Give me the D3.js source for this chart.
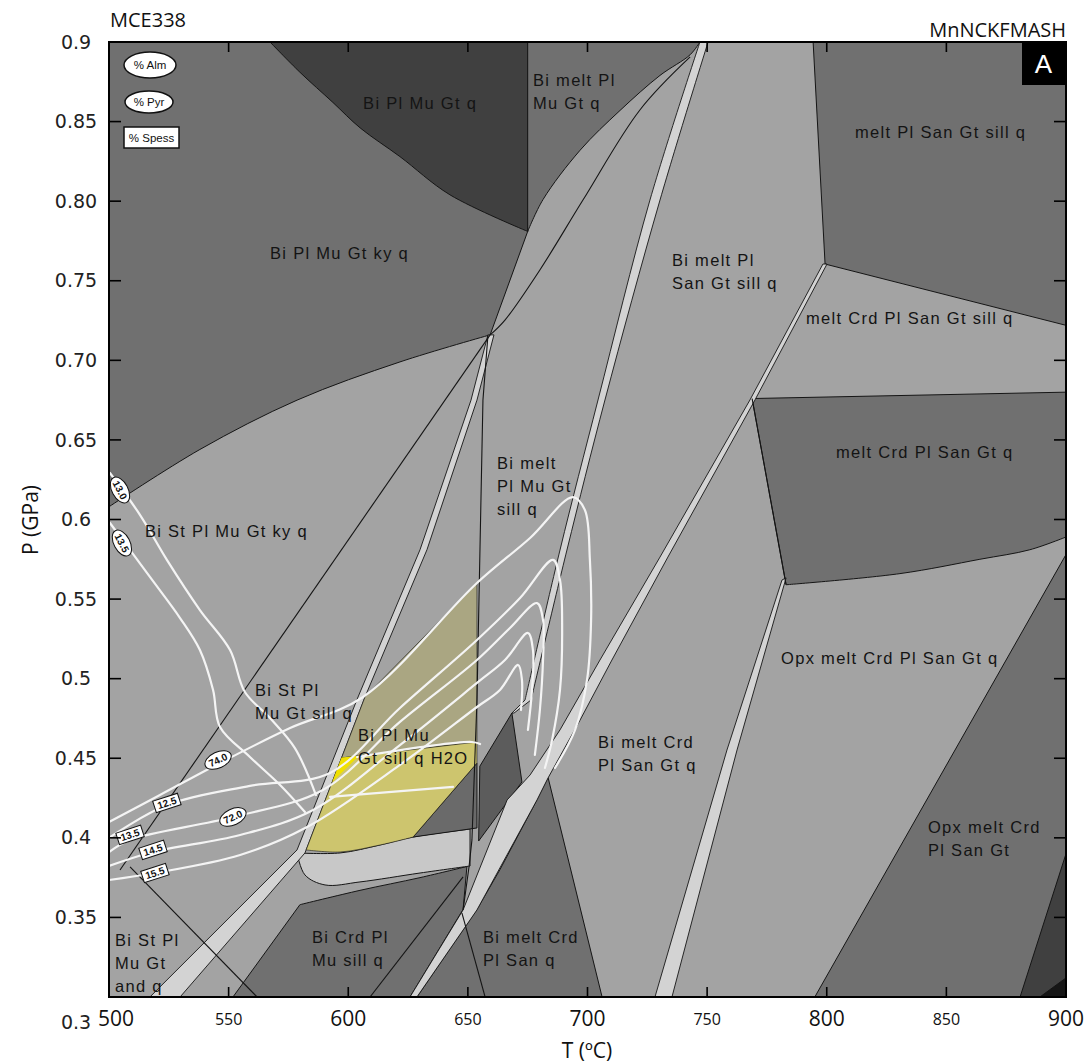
<!DOCTYPE html>
<html><head><meta charset="utf-8">
<script src="https://cdn.jsdelivr.net/npm/d3@7"></script>
<style>body{margin:0;background:#fff}</style>
</head><body>
<svg id="c" width="1088" height="1063"></svg>
<script>
// ---------- DATA (T in °C, P in GPa) ----------
const tempTicks = [500,550,600,650,700,750,800,850,900];
const presTicks = [0.9,0.85,0.8,0.75,0.7,0.65,0.6,0.55,0.5,0.45,0.4,0.35,0.3];
const presTickLabels = ["0.9","0.85","0.80","0.75","0.70","0.65","0.6","0.55","0.5","0.45","0.4","0.35","0.3"];

// field polygons
const fBiPlMuGtKyQ = [[500,0.9],[675,0.9],[675,0.781],[659.3,0.716],[621.6,0.699],[578.6,0.675],[538,0.644],[500,0.608]];
const fBiPlMuGtQ = [[675,0.9],[675,0.781],[642.5,0.804],[621.6,0.828],[605,0.846],[593.6,0.862],[579.8,0.881],[567.3,0.9]];
const fBiMeltPlMuGtQ = [[675,0.9],[747,0.9],[742.9,0.892],[730.3,0.879],[713.6,0.857],[696.9,0.832],[681.4,0.801],[675,0.781]];
const fMeltPlSanGtSillQ = [[794.3,0.9],[900,0.9],[900,0.722],[799.3,0.7605]];
const fMeltCrdPlSanGtQ = [[768.8,0.676],[900,0.680],[900,0.589],[884.9,0.581],[864,0.575],[830.6,0.566],[783,0.559]];
const fOpxMeltCrdPlSanGt = [[900,0.578],[900,0.3],[795,0.3]];
const fCornerA = [[900,0.39],[900,0.3],[880.8,0.3]];
const fCornerB = [[889.1,0.3],[900,0.3],[900,0.312]];
const fBiCrdPlMuSillQ = [[551.8,0.3],[579.8,0.358],[604.9,0.367],[630,0.375],[649.6,0.382],[648,0.355],[625.8,0.3]];
const fBiMeltCrdPlSanQ = [[683.5,0.438],[706.1,0.3],[628.7,0.3],[653.8,0.355],[663.4,0.38],[678.9,0.424]];
const fCrescent = [[578.6,0.3905],[596.6,0.3905],[613.3,0.3955],[627.1,0.4005],[650.9,0.4055],[650.9,0.3823],[630,0.3779],[604.9,0.3723],[590.3,0.3704],[581.9,0.3767],[578.6,0.3905]];
const fH2OUpper = [[607,0.4885],[653.8,0.5601],[653.8,0.4602],[597.2,0.4502]];
const fH2OLower = [[597.2,0.4502],[653.8,0.4602],[653.8,0.447],[627.1,0.4005],[613.3,0.3955],[596.6,0.3911],[582.4,0.3924],[590.4,0.4238]];
const fH2OBright = [[597.2,0.4505],[604.5,0.4515],[593.3,0.4351]];
const fDarkQuad = [[627.1,0.4005],[653.8,0.447],[653.8,0.4062]];
const fDarkTri = [[668.4,0.4784],[672.6,0.4351],[654.5,0.398],[655,0.445]];

// narrow bands
const bandB1 = [[658.4,0.716],[651.3,0.675],[630,0.581],[604.1,0.4885],[578.6,0.3924],[517.1,0.3],[529.7,0.3],[581.9,0.3905],[607,0.4885],[632.9,0.581],[653.8,0.675],[660.9,0.716]];
const bandB2 = [[747,0.9],[726.1,0.8007],[704.4,0.6751],[688.5,0.5808],[673.9,0.4866],[668.4,0.4784],[669.3,0.4784],[676.4,0.4866],[691.4,0.5808],[707.3,0.6751],[730.3,0.8007],[750.4,0.9]];
const bandB3 = [[798.4,0.7605],[767.9,0.6751],[730.3,0.5764],[705.2,0.5117],[688.5,0.4678],[676,0.4395],[666.4,0.4238],[648,0.3547],[625.8,0.3],[628.7,0.3],[653.8,0.3547],[678.9,0.4238],[683.5,0.4376],[696.9,0.474],[710.2,0.5117],[733.6,0.5764],[770,0.6751],[800.1,0.7605]];
const bandB4 = [[781.3,0.562],[758.3,0.4552],[728.2,0.3],[735.3,0.3],[762.5,0.4552],[783,0.5633]];

// other reaction lines
const lineC2 = [[742.9,0.8906],[721.9,0.8573],[698.1,0.8007],[680.1,0.7568],[665.5,0.7253],[659.3,0.716]];
const lineV1 = [[658.4,0.716],[656.3,0.675],[653.8,0.4866],[651.7,0.3987],[650.5,0.382],[648,0.3547]];
const lineKySill = [[659.3,0.716],[504.6,0.3798]];
const lineSillAnd = [[508.8,0.3817],[561.9,0.3]];
const lineBot1 = [[609.1,0.3],[648,0.3755]];
const lineBot2 = [[647.5,0.3528],[657.2,0.3]];
const lineCrdIn = [[768.8,0.676],[783,0.559]];

// garnet isopleths
const isoPyr130 = [[500.4,0.6292],[513,0.6028],[524.2,0.5746],[538,0.5431],[550.6,0.518],[556.8,0.4916],[567.3,0.4753],[577.7,0.4564],[586.5,0.4269]];
const isoPyr135 = [[500.4,0.5978],[517.1,0.5639],[529.7,0.5381],[538,0.518],[543.5,0.4929],[546.4,0.4696],[558.9,0.4508],[571.5,0.4332],[581.9,0.4162]];
const isoA = [[500,0.41],[521.3,0.4269],[545.6,0.4464],[575.7,0.469],[606.2,0.4885],[653.8,0.5601],[676,0.5884],[693.9,0.6141],[698.9,0.606],[701,0.5746],[701.5,0.5369],[699.8,0.4992],[694.8,0.4678],[686.4,0.4439]];
const isoB = [[500,0.4],[524.2,0.4206],[558.9,0.4326],[592.4,0.4408],[621.6,0.4816],[653.8,0.5243],[671.8,0.5507],[685.6,0.5746],[688.5,0.562],[689.4,0.5306],[688.5,0.4929],[685.2,0.4615],[682.2,0.4439]];
const isoC = [[500,0.3911],[508.8,0.3987],[551.8,0.4131],[589.4,0.4301],[621.6,0.4728],[653.8,0.5117],[667.6,0.5318],[678.9,0.5475],[681.4,0.5369],[681.4,0.5117],[680.1,0.4803],[678,0.4521]];
const isoD = [[500,0.3823],[518.4,0.3911],[554.8,0.4018],[585.3,0.4175],[621.6,0.4583],[653.8,0.4973],[665.5,0.5117],[675.1,0.5287],[677.2,0.518],[676.8,0.4929],[675.1,0.4678]];
const isoE = [[500,0.3735],[519.2,0.3779],[554.8,0.3892],[582.8,0.4068],[621.6,0.4458],[653.8,0.4822],[663.4,0.4929],[671,0.5086],[672.6,0.4992],[672.2,0.4803]];
const isoF = [[592.4,0.4257],[643.8,0.432]];
const isoG = [[603.7,0.4508],[651.7,0.4602],[655.1,0.4589]];

// isopleth labels
const isoLabelText = ["13.0","13.5","74.0","12.5","72.0","13.5","14.5","15.5"];
const isoLabelT = [504.6,505.4,545.6,524.2,551.8,508.8,518.4,519.2];
const isoLabelP = [0.6185,0.5852,0.4489,0.4219,0.4131,0.4018,0.3924,0.3779];
const isoLabelKind = ["pyr","pyr","alm","sp","alm","sp","sp","sp"];

// field labels
const fieldLabelLines = [["Bi Pl Mu Gt q"],["Bi melt Pl","Mu Gt q"],["melt Pl San Gt sill q"],["Bi Pl Mu Gt ky q"],
 ["Bi melt Pl","San Gt sill q"],["melt Crd Pl San Gt sill q"],["melt Crd Pl San Gt q"],["Bi melt","Pl Mu Gt","sill q"],
 ["Bi St Pl Mu Gt ky q"],["Opx melt Crd Pl San Gt q"],["Bi St Pl","Mu Gt sill q"],["Bi Pl Mu","Gt sill q H2O"],
 ["Bi melt Crd","Pl San Gt q"],["Opx melt Crd","Pl San Gt"],["Bi St Pl","Mu Gt","and q"],["Bi Crd Pl","Mu sill q"],["Bi melt Crd","Pl San q"]];
const fieldLabelT = [606.2,677.2,811.8,567.3,735.3,791.3,803.9,662.2,515,780.9,561,604.1,704.4,842.3,502.5,584.8,656.3];
const fieldLabelP = [0.8617,0.8761,0.8435,0.7674,0.763,0.7266,0.6424,0.6355,0.5928,0.513,0.4929,0.4646,0.4602,0.4068,0.3358,0.3377,0.3377];

// ---------- DRAW ----------
const svg = d3.select("#c");
const m = {l:109, r:1066, t:42, b:997};
const x = d3.scaleLinear().domain([500,900]).range([m.l,m.r]);
const y = d3.scaleLinear().domain([0.3,0.9]).range([m.b,m.t]);
const lin = d3.line().x(d=>x(d[0])).y(d=>y(d[1]));
const smooth = d3.line().x(d=>x(d[0])).y(d=>y(d[1])).curve(d3.curveCatmullRom.alpha(0.5));

const tone = {light:"#a3a3a3", mid:"#707070", dark:"#404040", darkest:"#161616", band:"#d3d3d3", pale:"#c8c8c8",
  khaki:"#aaa682", yellow:"#cdc56e", bright:"#f0e000", darkq:"#6a6a6a", darkt:"#5c5c5c"};

svg.append("defs").append("clipPath").attr("id","plot").append("rect")
  .attr("x",m.l).attr("y",m.t).attr("width",m.r-m.l).attr("height",m.b-m.t);
const g = svg.append("g").attr("clip-path","url(#plot)");

g.append("rect").attr("x",m.l).attr("y",m.t).attr("width",m.r-m.l).attr("height",m.b-m.t).attr("fill",tone.light);

function pathFor(pts, spans){
  spans = spans || [];
  let d = `M${x(pts[0][0])},${y(pts[0][1])}`;
  let i = 0;
  while(i < pts.length-1){
    const sp = spans.find(s=>s[0]===i);
    if(sp){
      d += "L" + smooth(pts.slice(sp[0], sp[1]+1)).slice(1);
      i = sp[1];
    } else {
      d += `L${x(pts[i+1][0])},${y(pts[i+1][1])}`;
      i++;
    }
  }
  return d + "Z";
}
function poly(pts, fill, sw, spans){
  g.append("path").attr("d", pathFor(pts, spans)).attr("fill",fill).attr("stroke","#151515")
   .attr("stroke-width", sw===undefined?1:sw).attr("stroke-linejoin","round");
}
poly(fBiPlMuGtKyQ, tone.mid, 1, [[3,7]]);
poly(fBiPlMuGtQ, tone.dark, 1, [[1,7]]);
poly(fBiMeltPlMuGtQ, tone.mid, 1, [[1,7]]);
poly(fMeltPlSanGtSillQ, tone.mid);
poly(fMeltCrdPlSanGtQ, tone.mid, 1, [[2,6]]);
poly(fOpxMeltCrdPlSanGt, tone.mid);
poly(fCornerA, tone.dark);
poly(fCornerB, tone.darkest);
poly(fBiCrdPlMuSillQ, tone.mid, 1, [[1,4]]);
poly(fBiMeltCrdPlSanQ, tone.mid);
poly(fCrescent, tone.pale, 1, [[0,4],[5,10]]);
poly(fDarkQuad, tone.darkq);
poly(fDarkTri, tone.darkt);
poly(bandB1, tone.band, 0.9);
poly(bandB2, tone.band, 0.9, [[0,4],[7,11]]);
poly(bandB3, tone.band, 0.9);
poly(bandB4, tone.band, 0.9);
poly(fH2OUpper, tone.khaki, 0.6);
poly(fH2OLower, tone.yellow, 0.6, [[3,6]]);
poly(fH2OBright, tone.bright, 0);

g.append("path").attr("d", smooth(lineC2)).attr("fill","none").attr("stroke","#151515").attr("stroke-width",1.1);
[lineV1, lineKySill, lineSillAnd, lineBot1, lineBot2, lineCrdIn].forEach(l=>{
  g.append("path").attr("d", lin(l)).attr("fill","none").attr("stroke","#151515").attr("stroke-width",1.1);
});

[isoPyr130, isoPyr135, isoA, isoB, isoC, isoD, isoE, isoF, isoG].forEach(l=>{
  g.append("path").attr("d", smooth(l)).attr("fill","none").attr("stroke","#f4f4f4").attr("stroke-width",2.2)
   .attr("stroke-linecap","round");
});

const angles = {pyr:62, alm:-25, sp:-18};
isoLabelText.forEach((t,i)=>{
  const k = isoLabelKind[i];
  const gg = g.append("g").attr("transform",`translate(${x(isoLabelT[i])},${y(isoLabelP[i])}) rotate(${angles[k]})`);
  if(k==="sp"){
    gg.append("rect").attr("x",-13).attr("y",-6).attr("width",26).attr("height",12).attr("fill","#fff").attr("stroke","#111").attr("stroke-width",1);
  } else {
    gg.append("ellipse").attr("rx",14).attr("ry",8).attr("fill","#fff").attr("stroke","#111").attr("stroke-width",1);
  }
  gg.append("text").attr("text-anchor","middle").attr("dy","0.35em").attr("font-family","Liberation Sans, Arial")
    .attr("font-size",10).attr("font-weight","bold").attr("fill","#111").text(t);
});

fieldLabelLines.forEach((lines,i)=>{
  const t = svg.append("text").attr("x",x(fieldLabelT[i])).attr("y",y(fieldLabelP[i]))
    .attr("font-family","Liberation Sans, Arial").attr("font-size",16.5).attr("letter-spacing",1.3).attr("fill","#141414");
  lines.forEach((s,j)=>t.append("tspan").attr("x",x(fieldLabelT[i])).attr("dy", j===0?"0.35em":"1.4em").text(s));
});

svg.append("rect").attr("x",m.l).attr("y",m.t).attr("width",m.r-m.l).attr("height",m.b-m.t)
  .attr("fill","none").attr("stroke","#000").attr("stroke-width",2);

const tk = svg.append("g").attr("stroke","#000").attr("stroke-width",1.6);
tempTicks.slice(1,-1).forEach(v=>{
  tk.append("line").attr("x1",x(v)).attr("x2",x(v)).attr("y1",m.t).attr("y2",m.t+10);
  tk.append("line").attr("x1",x(v)).attr("x2",x(v)).attr("y1",m.b).attr("y2",m.b-10);
});
presTicks.slice(1,-1).forEach(v=>{
  tk.append("line").attr("x1",m.l).attr("x2",m.l+12).attr("y1",y(v)).attr("y2",y(v));
  tk.append("line").attr("x1",m.r).attr("x2",m.r-12).attr("y1",y(v)).attr("y2",y(v));
});

presTicks.forEach((v,i)=>{
  svg.append("text").attr("x",76).attr("y",y(v)+(v===0.3?25:0)).attr("dy","0.35em").attr("text-anchor","middle")
    .attr("font-family","DejaVu Sans, Verdana").attr("font-size",19).attr("fill","#222").text(presTickLabels[i]);
});
tempTicks.forEach(v=>{
  const major = v%100===0;
  svg.append("text").attr("x",x(v)+(v===500?7:0)).attr("y",1019).attr("dy","0.35em").attr("text-anchor","middle")
    .attr("font-family","Open Sans, sans-serif").attr("font-size",major?21:16).attr("fill","#111").text(v);
});

svg.append("text").attr("x",587).attr("y",1051).attr("dy","0.35em").attr("text-anchor","middle")
  .attr("font-family","Open Sans, sans-serif").attr("font-size",21).attr("fill","#111").text("T (ºC)");
svg.append("text").attr("transform","translate(31,520) rotate(-90)").attr("dy","0.35em").attr("text-anchor","middle")
  .attr("font-family","Open Sans, sans-serif").attr("font-size",21).attr("fill","#111").text("P (GPa)");

svg.append("text").attr("x",110).attr("y",20).attr("dy","0.35em").attr("font-family","Open Sans, sans-serif")
  .attr("font-size",20).attr("fill","#111").text("MCE338");
svg.append("text").attr("x",1066).attr("y",30).attr("dy","0.35em").attr("text-anchor","end").attr("font-family","Open Sans, sans-serif")
  .attr("font-size",20).attr("fill","#111").text("MnNCKFMASH");

svg.append("rect").attr("x",1022).attr("y",43).attr("width",43).attr("height",42).attr("fill","#000");
svg.append("text").attr("x",1043.5).attr("y",64).attr("dy","0.36em").attr("text-anchor","middle")
  .attr("font-family","Liberation Sans, Arial").attr("font-size",26).attr("fill","#fff").text("A");

const lg = svg.append("g").attr("font-family","Liberation Sans, Arial").attr("font-size",11.5).attr("fill","#111");
lg.append("ellipse").attr("cx",150).attr("cy",65).attr("rx",26).attr("ry",13).attr("fill","#fff").attr("stroke","#111").attr("stroke-width",1.5);
lg.append("text").attr("x",150).attr("y",65).attr("dy","0.35em").attr("text-anchor","middle").text("% Alm");
lg.append("ellipse").attr("cx",149).attr("cy",102).attr("rx",24).attr("ry",11).attr("fill","#fff").attr("stroke","#111").attr("stroke-width",1.5);
lg.append("text").attr("x",149).attr("y",102).attr("dy","0.35em").attr("text-anchor","middle").text("% Pyr");
lg.append("rect").attr("x",124).attr("y",127).attr("width",55).attr("height",21).attr("fill","#fff").attr("stroke","#111").attr("stroke-width",1.5);
lg.append("text").attr("x",151.5).attr("y",137.5).attr("dy","0.35em").attr("text-anchor","middle").text("% Spess");
</script>
</body></html>
